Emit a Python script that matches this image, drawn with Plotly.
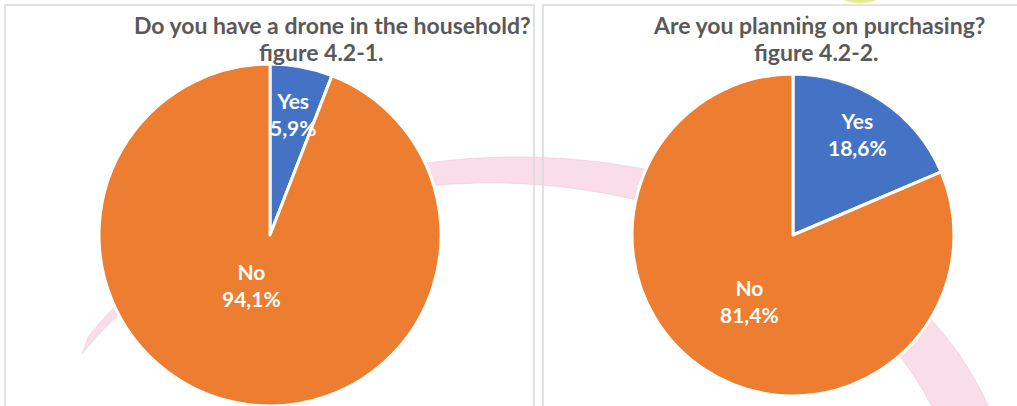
import numpy as np
import plotly.graph_objects as go

W, H = 1017, 406

# ---- data ----
labels = ["Yes", "No"]
values_drone = [5.9, 94.1]
values_plan = [18.6, 81.4]
title_drone = ["Do you have a drone in the household?", "figure 4.2-1."]
title_plan = ["Are you planning on purchasing?", "figure 4.2-2."]
colors = ["#4472C4", "#ED7D31"]

# ---- layout geometry (pixels) ----
pies = [
    dict(values=values_drone, title=title_drone, cx=270, cy=235, r=171, title_x=[332, 321],
         lab_rf=[0.72, 0.30], lab_dx=[0, -9]),
    dict(values=values_plan, title=title_plan, cx=793, cy=235, r=161, title_x=[819, 816],
         lab_rf=[0.75, 0.49], lab_dx=[-2, 0]),
]
title_line_y = [25, 51.5]

def px(x):
    return x / W

def py(y):
    return 1 - y / H

fig = go.Figure()
annotations = []
for p in pies:
    cx, cy, r = p["cx"], p["cy"], p["r"]
    fig.add_trace(go.Pie(
        labels=labels, values=p["values"], sort=False, direction="clockwise", rotation=0,
        marker=dict(colors=colors, line=dict(color="white", width=3)),
        textinfo="none", hoverinfo="label+percent", showlegend=False,
        domain=dict(x=[px(cx - r), px(cx + r)], y=[py(cy + r), py(cy - r)]),
    ))
    total = sum(p["values"])
    cum = 0.0
    for lab, v, rf, dx in zip(labels, p["values"], p["lab_rf"], p["lab_dx"]):
        ang = np.deg2rad((cum + v / 2) / total * 360)
        cum += v
        lx = cx + rf * r * np.sin(ang) + dx
        ly = cy - rf * r * np.cos(ang)
        txt = f"<b>{lab}<br>{str(v).replace('.', ',')}%</b>"
        annotations.append(dict(x=px(lx), y=py(ly), xref="paper", yref="paper", text=txt,
                                showarrow=False, xanchor="center", yanchor="middle",
                                font=dict(family="Lato", size=21, color="white")))
    for line, tx, ty in zip(p["title"], p["title_x"], title_line_y):
        annotations.append(dict(x=px(tx), y=py(ty), xref="paper", yref="paper",
                                text=f"<b>{line}</b>", showarrow=False,
                                xanchor="center", yanchor="middle",
                                font=dict(family="Lato", size=23, color="#595959")))

# ---- decorative pink ring (background) ----
def ring_path():
    t_out = np.deg2rad(np.linspace(150, -20, 200))
    t_in = np.deg2rad(np.linspace(-20, 150, 200))
    ox = 517 + 495 * np.cos(t_out)
    oy = 516 - 359 * np.sin(t_out)
    ix = 490 + 471 * np.cos(t_in)
    iy = 525 - 342 * np.sin(t_in)
    xs = np.concatenate([ox, ix])
    ys = np.concatenate([oy, iy])
    pts = [f"{px(x):.5f},{py(y):.5f}" for x, y in zip(xs, ys)]
    return "M " + " L ".join(pts) + " Z"

shapes = [
    dict(type="path", path=ring_path(), xref="paper", yref="paper",
         fillcolor="#F9DDE8", line=dict(color="#E6CDD6", width=0.6), layer="below"),
    dict(type="rect", xref="paper", yref="paper", x0=px(5), x1=px(534), y0=py(420), y1=py(5),
         line=dict(color="#D9D9D9", width=1.5), fillcolor="rgba(0,0,0,0)", layer="below"),
    dict(type="rect", xref="paper", yref="paper", x0=px(543), x1=px(1030), y0=py(420), y1=py(5),
         line=dict(color="#D9D9D9", width=1.5), fillcolor="rgba(0,0,0,0)", layer="below"),
    dict(type="circle", xref="paper", yref="paper", x0=px(838), x1=px(882), y0=py(3), y1=py(-14),
         fillcolor="#E4EC8C", line=dict(width=0), layer="below"),
    dict(type="circle", xref="paper", yref="paper", x0=px(805.5), x1=px(808.5), y0=py(18.5), y1=py(15.5),
         fillcolor="#595959", line=dict(width=0), layer="below"),
]

fig.update_layout(
    width=W, height=H, margin=dict(l=0, r=0, t=0, b=0),
    paper_bgcolor="white", plot_bgcolor="white",
    shapes=shapes, annotations=annotations,
)

fig.write_html("out.html", config={"displayModeBar": False},
               post_script="document.body.style.margin='0';document.body.style.overflow='hidden';")
